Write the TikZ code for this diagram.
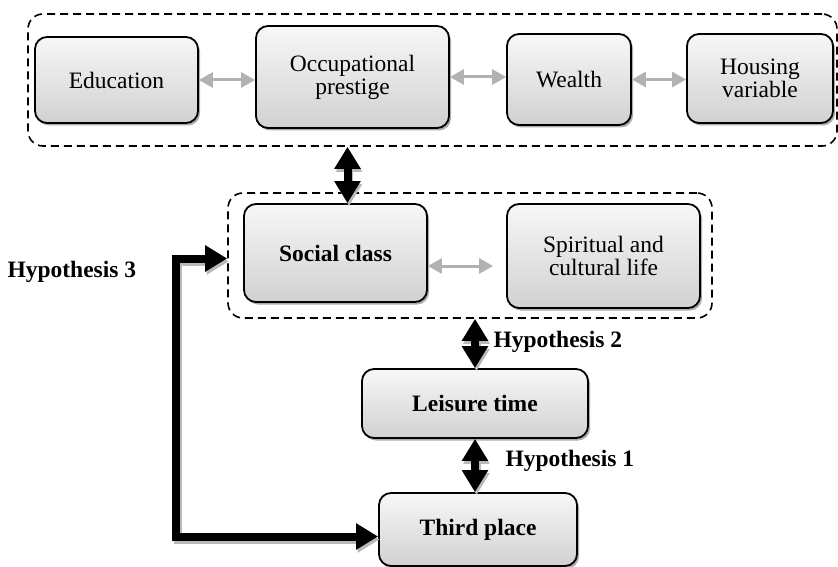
\documentclass[tikz,border=0pt]{standalone}
\usepackage{fontspec}
\setmainfont{Liberation Serif}
\usetikzlibrary{arrows.meta,shadows}

\tikzstyle{box}=[draw=black,line width=1.8pt,rounded corners=12pt,align=center,
	top color=gray!6,bottom color=gray!36,
	drop shadow={shadow xshift=2pt,shadow yshift=-2.5pt,fill=gray!65,opacity=1}]
\tikzstyle{group}=[draw=black,line width=1.6pt,dash pattern=on 8pt off 5pt,rounded corners=15pt]
\tikzstyle{greyarrow}=[draw=gray!60,line width=3pt,{Triangle[length=14pt,width=15pt]}-{Triangle[length=14pt,width=15pt]}]
\tikzstyle{bigarrow}=[line width=8pt,{Triangle[length=22pt,width=25pt]}-{Triangle[length=22pt,width=25pt]}]
\tikzstyle{hypo}=[font=\fontsize{23.5}{23}\selectfont\bfseries,anchor=west]

\begin{document}
\begin{tikzpicture}[x=1pt,y=-1pt,font=\fontsize{23.5}{23}\selectfont]
	\useasboundingbox (0,0) rectangle (838,567);
	%groups
	\node[group,minimum width=809,minimum height=132] (top) at (432.5,80) {};
	\node[group,minimum width=484,minimum height=125] (socgrp) at (470,255.5) {};
	%boxes
	\node[box,minimum width=163,minimum height=86] (edu) at (116.5,80) {Education};
	\node[box,minimum width=193,minimum height=102] (occ) at (352.5,77) {Occupational\\prestige};
	\node[box,minimum width=124,minimum height=91] (wealth) at (569,79.5) {Wealth};
	\node[box,minimum width=146,minimum height=89] (house) at (760,78.5) {Housing\\variable};
	\node[box,minimum width=183,minimum height=98,font=\fontsize{23.5}{23}\selectfont\bfseries] (soc) at (335.5,253) {Social class};
	\node[box,minimum width=193,minimum height=104] (spirit) at (603.5,256) {Spiritual and\\cultural life};
	\node[box,minimum width=226,minimum height=69,font=\fontsize{23.5}{23}\selectfont\bfseries] (leis) at (475,403.5) {Leisure time};
	\node[box,minimum width=198,minimum height=73,font=\fontsize{23.5}{23}\selectfont\bfseries] (third) at (478,529.5) {Third place};
	%grey arrows
	\draw[greyarrow] (edu.east) -- (edu.east -| occ.west);
	\draw[greyarrow] (occ.east) -- (occ.east -| wealth.west);
	\draw[greyarrow] (wealth.east) -- (wealth.east -| house.west);
	\draw[greyarrow,shorten >=13pt] ([yshift=-13pt]soc.east) -- ([yshift=-13pt]soc.east -| spirit.west);
	%black arrows with shadow
	\foreach \col/\dx/\dy in {gray!55/1.5pt/-3pt,black/0pt/0pt}
	{
		\begin{scope}[transform canvas={shift={(\dx,\dy)}},draw=\col,fill=\col]
			\draw[bigarrow] ([xshift=-5pt]top.south -| occ.south) -- ([xshift=-5pt]soc.north -| occ.south);
			\draw[bigarrow] (socgrp.south -| leis.north) -- (leis.north);
			\draw[bigarrow] (leis.south) -- (leis.south |- third.north);
			\draw[bigarrow] ([yshift=-3pt]socgrp.west) -- ++(-51,0) |- ([yshift=-7pt]third.west);
		\end{scope}
	}
	%labels
	\node[hypo] (h2) at (490,342) {Hypothesis 2};
	\node[hypo] (h1) at (502,461) {Hypothesis 1};
	\node[hypo] (h3) at (4,272) {Hypothesis 3};
\end{tikzpicture}
\end{document}
